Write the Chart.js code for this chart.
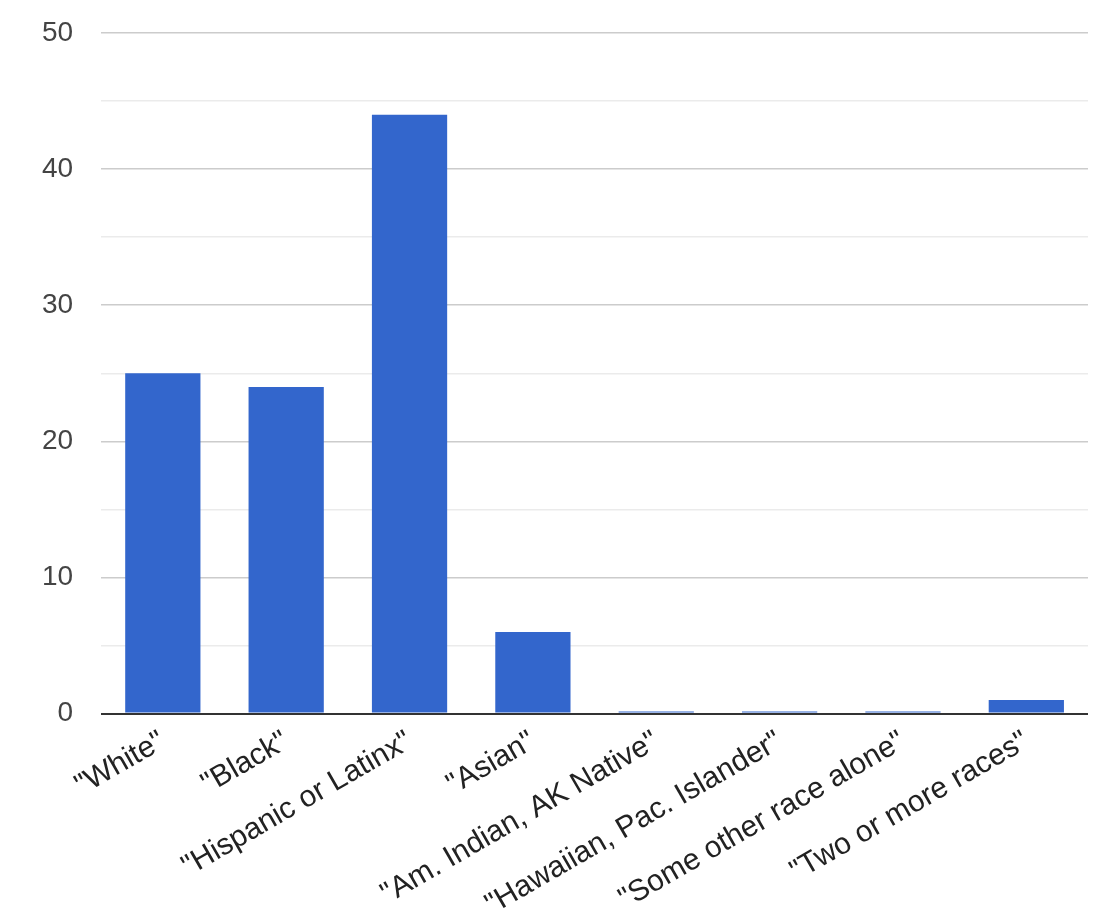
<!DOCTYPE html>
<html>
<head>
<meta charset="utf-8">
<script src="https://cdn.jsdelivr.net/npm/chart.js@4.4.1/dist/chart.umd.min.js"></script>
<style>
  html, body { margin: 0; padding: 0; background: #fff; overflow: hidden; }
  #wrap { width: 1112px; height: 934px; margin-top: -9px; }
</style>
</head>
<body>
<div id="wrap"><canvas id="myChart"></canvas></div>
<script>
var categories = ['"White"', '"Black"', '"Hispanic or Latinx"', '"Asian"', '"Am. Indian, AK Native"', '"Hawaiian, Pac. Islander"', '"Some other race alone"', '"Two or more races"'];
var counts = [25, 24, 44, 6, 0, 0, 0, 1];
var yTicks = [0, 10, 20, 30, 40, 50];

Chart.defaults.font.family = "'Liberation Sans', Arial, sans-serif";
Chart.defaults.animation = false;

new Chart("myChart", {
  type: "bar",
  data: {
    labels: categories,
    datasets: [{
      data: counts,
      backgroundColor: "#3366cc",
      barPercentage: 0.61,
      categoryPercentage: 1,
      minBarLength: 2
    }]
  },
  options: {
    responsive: true,
    maintainAspectRatio: false,
    layout: { padding: { top: 0, right: 24, left: 14, bottom: 0 } },
    plugins: { legend: { display: false }, tooltip: { enabled: false } },
    scales: {
      x: {
        grid: { display: false },
        border: { display: false },
        ticks: {
          color: "#222",
          font: { size: 30 },
          minRotation: 30,
          maxRotation: 30,
          autoSkip: false,
          padding: 2,
          labelOffset: 0
        }
      },
      y: {
        min: 0,
        max: 50,
        border: { display: false },
        grid: {
          drawTicks: false,
          color: function (c) {
            var v = c.tick.value;
            if (v === 0) return "#333";
            return yTicks.indexOf(v) >= 0 ? "#cccccc" : "#ebebeb";
          },
          lineWidth: function (c) { return c.tick.value === 0 ? 2 : 1.5; }
        },
        ticks: {
          stepSize: 5,
          color: "#444",
          font: { size: 28, lineHeight: 1 },
          padding: 28,
          callback: function (v) { return yTicks.indexOf(v) >= 0 ? v : ""; }
        }
      }
    }
  }
});
</script>
</body>
</html>
